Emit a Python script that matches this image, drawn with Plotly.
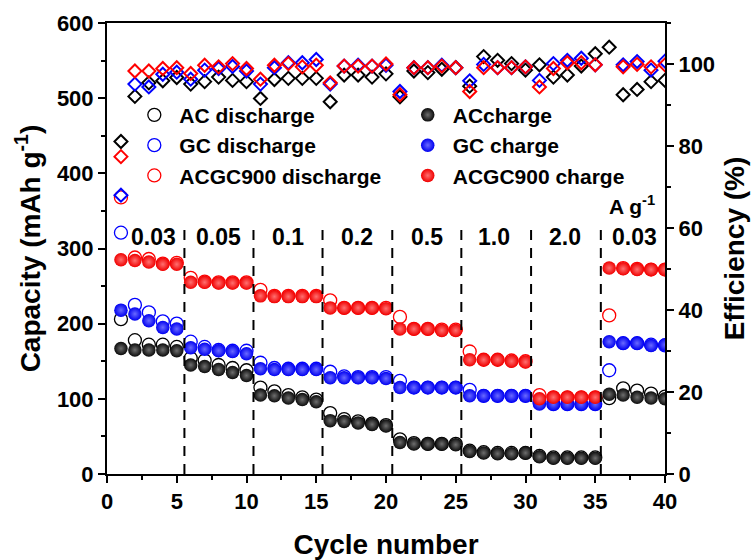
import plotly.graph_objects as go

cycles = list(range(1, 41))

ac_discharge = [206, 178, 172, 172, 169, 154, 151, 145, 141, 138,
                115, 110, 105, 102, 99, 81, 73, 70, 67, 65,
                46, 41, 40, 40, 40, 31, 29, 28, 28, 28,
                24, 22, 22, 22, 22, 101, 114, 111, 107, 103]
ac_charge = [167, 165, 165, 165, 164, 145, 143, 139, 135, 131,
             105, 104, 101, 99, 96, 71, 70, 68, 66, 64,
             42, 40, 40, 40, 39, 30, 28, 27, 27, 28,
             23, 21, 21, 21, 21, 106, 105, 102, 101, 100]
gc_discharge = [321, 225, 215, 203, 200, 176, 169, 165, 164, 164,
                148, 141, 140, 140, 140, 136, 130, 129, 129, 129,
                124, 115, 115, 115, 115, 112, 104, 104, 104, 104,
                96, 93, 93, 93, 93, 138, 174, 174, 172, 171]
gc_charge = [218, 213, 204, 195, 193, 168, 166, 164, 163, 160,
             140, 139, 139, 139, 139, 128, 128, 128, 128, 127,
             115, 115, 115, 115, 115, 104, 104, 104, 104, 104,
             93, 93, 93, 93, 93, 176, 174, 174, 171, 172]
acgc_discharge = [368, 288, 286, 280, 281, 261, 256, 255, 255, 255,
                  245, 237, 237, 237, 237, 231, 221, 221, 221, 221,
                  209, 193, 193, 192, 192, 163, 152, 152, 151, 150,
                  105, 102, 102, 102, 102, 211, 274, 273, 272, 272]
acgc_charge = [285, 284, 282, 279, 279, 255, 255, 254, 254, 254,
               237, 236, 236, 236, 236, 221, 221, 221, 221, 220,
               193, 193, 193, 191, 191, 152, 152, 152, 150, 149,
               100, 102, 102, 102, 102, 274, 273, 272, 272, 272]

ac_eff = [81.1, 92.1, 95.4, 95.9, 96.7, 95.1, 95.7, 96.8, 96.0, 95.7,
          91.6, 96.2, 96.5, 96.5, 96.5, 90.8, 97.3, 97.3, 96.8, 97.6,
          92.0, 98.3, 97.9, 98.7, 99.1, 94.6, 101.8, 100.9, 100.1, 98.5,
          99.8, 96.8, 97.3, 99.5, 102.5, 104.1, 92.5, 93.8, 95.7, 96.0]
gc_eff = [68.0, 95.1, 94.4, 97.5, 98.0, 96.3, 98.5, 98.9, 99.4, 98.3,
          95.1, 99.1, 100.3, 100.3, 101.1, 95.1, 99.5, 99.7, 99.5, 99.7,
          93.3, 99.1, 99.1, 99.7, 99.1, 95.9, 99.9, 99.1, 99.1, 99.3,
          96.0, 100.1, 100.9, 101.4, 99.8, None, 99.8, 100.6, 98.5, 100.7]
acgc_eff = [77.4, 98.3, 98.3, 98.9, 99.1, 97.7, 99.7, 99.3, 100.1, 98.9,
            96.3, 99.7, 100.1, 99.3, 99.7, 95.4, 99.5, 99.5, 99.5, 100.0,
            92.5, 99.1, 99.1, 99.5, 99.1, 93.3, 99.1, 99.1, 99.1, 99.3,
            94.4, 98.9, 100.3, 100.3, 99.8, None, 99.3, 99.9, 99.3, 99.8]

rate_labels = ["0.03", "0.05", "0.1", "0.2", "0.5", "1.0", "2.0", "0.03"]
rate_label_x = [3.3, 8.0, 12.95, 17.95, 22.95, 27.75, 32.8, 37.8]
boundaries = [5.55, 10.5, 15.45, 20.45, 25.4, 30.4, 35.4]

FONT = "Liberation Sans, Arial, sans-serif"
BLACK, BLUE, RED = "#000000", "#0000ff", "#ff0000"

fig = go.Figure()

def open_trace(y, color, name, legend):
    return go.Scatter(x=cycles, y=y, mode="markers", name=name, legend=legend,
                      marker=dict(symbol="circle-open", size=13, color=color,
                                  line=dict(width=1.3, color=color)))

def ball_trace(y, color, light, name, legend):
    return go.Scatter(x=cycles, y=y, mode="markers", name=name, legend=legend,
                      marker=dict(symbol="circle", size=13.5, color=color,
                                  gradient=dict(type="radial", color=light),
                                  line=dict(width=0)))

def eff_trace(y, color):
    return go.Scatter(x=cycles, y=y, mode="markers", yaxis="y2", showlegend=False,
                      marker=dict(symbol="diamond-open", size=10, color=color,
                                  line=dict(width=2, color=color)))

fig.add_trace(open_trace(ac_discharge, BLACK, "AC discharge", "legend"))
fig.add_trace(open_trace(gc_discharge, BLUE, "GC discharge", "legend"))
fig.add_trace(open_trace(acgc_discharge, RED, "ACGC900 discharge", "legend"))
fig.add_trace(ball_trace(ac_charge, "#0a0a0a", "#6e6e6e", "ACcharge", "legend2"))
fig.add_trace(ball_trace(gc_charge, "#0000f0", "#6a6aff", "GC charge", "legend2"))
fig.add_trace(ball_trace(acgc_charge, "#f00000", "#ff7070", "ACGC900 charge", "legend2"))
fig.add_trace(eff_trace(ac_eff, BLACK))
fig.add_trace(eff_trace(gc_eff, BLUE))
fig.add_trace(eff_trace(acgc_eff, RED))

for b in boundaries:
    fig.add_shape(type="line", x0=b, x1=b, y0=0, y1=330, xref="x", yref="y",
                  line=dict(color="black", width=2, dash="10px,8px"))

for lab, lx in zip(rate_labels, rate_label_x):
    fig.add_annotation(x=lx, y=315, text=lab, showarrow=False, xref="x", yref="y",
                       font=dict(family=FONT, size=23, color="black", weight="bold"))
fig.add_annotation(x=37.6, y=358, text="A g<sup>-1</sup>", showarrow=False, xref="x", yref="y",
                   font=dict(family=FONT, size=21, color="black", weight="bold"))

tickfont = dict(family=FONT, size=22, color="black", weight="bold")
titlefont = dict(family=FONT, size=28, color="black", weight="bold")
legfont = dict(family=FONT, size=21, color="black", weight="bold")

fig.update_layout(
    width=755, height=560,
    margin=dict(l=107, r=90, t=23, b=86),
    paper_bgcolor="white", plot_bgcolor="white",
    xaxis=dict(range=[0, 40], dtick=5, tick0=0, showline=True, linecolor="black", linewidth=2,
               mirror=True, ticks="outside", ticklen=7, tickwidth=2, tickcolor="black",
               showgrid=False, zeroline=False, tickfont=tickfont, automargin=False,
               minor=dict(ticks="outside", ticklen=4, tickwidth=2, dtick=2.5, tickcolor="black"),
               title=dict(text="Cycle number", font=titlefont, standoff=24)),
    yaxis=dict(range=[0, 600], dtick=100, showline=True, linecolor="black", linewidth=2,
               ticks="outside", ticklen=7, tickwidth=2, tickcolor="black", automargin=False,
               showgrid=False, zeroline=False, tickfont=tickfont,
               minor=dict(ticks="outside", ticklen=4, tickwidth=2, dtick=50, tickcolor="black"),
               title=dict(text="Capacity (mAh g<sup>-1</sup>)", font=titlefont, standoff=8)),
    yaxis2=dict(range=[0, 110], dtick=20, overlaying="y", side="right", showline=True,
                linecolor="black", linewidth=2, ticks="outside", ticklen=7, tickwidth=2,
                tickcolor="black", showgrid=False, zeroline=False, tickfont=tickfont,
                automargin=False,
                minor=dict(ticks="outside", ticklen=4, tickwidth=2, dtick=10, tickcolor="black"),
                title=dict(text="Efficiency (%)", font=titlefont, standoff=10)),
    legend=dict(x=0.040, y=0.841, xanchor="left", yanchor="top", bgcolor="rgba(0,0,0,0)",
                font=legfont, itemwidth=40, tracegroupgap=0),
    legend2=dict(x=0.530, y=0.841, xanchor="left", yanchor="top", bgcolor="rgba(0,0,0,0)",
                 font=legfont, itemwidth=40, tracegroupgap=0),
)

fig.write_html("out.html")
